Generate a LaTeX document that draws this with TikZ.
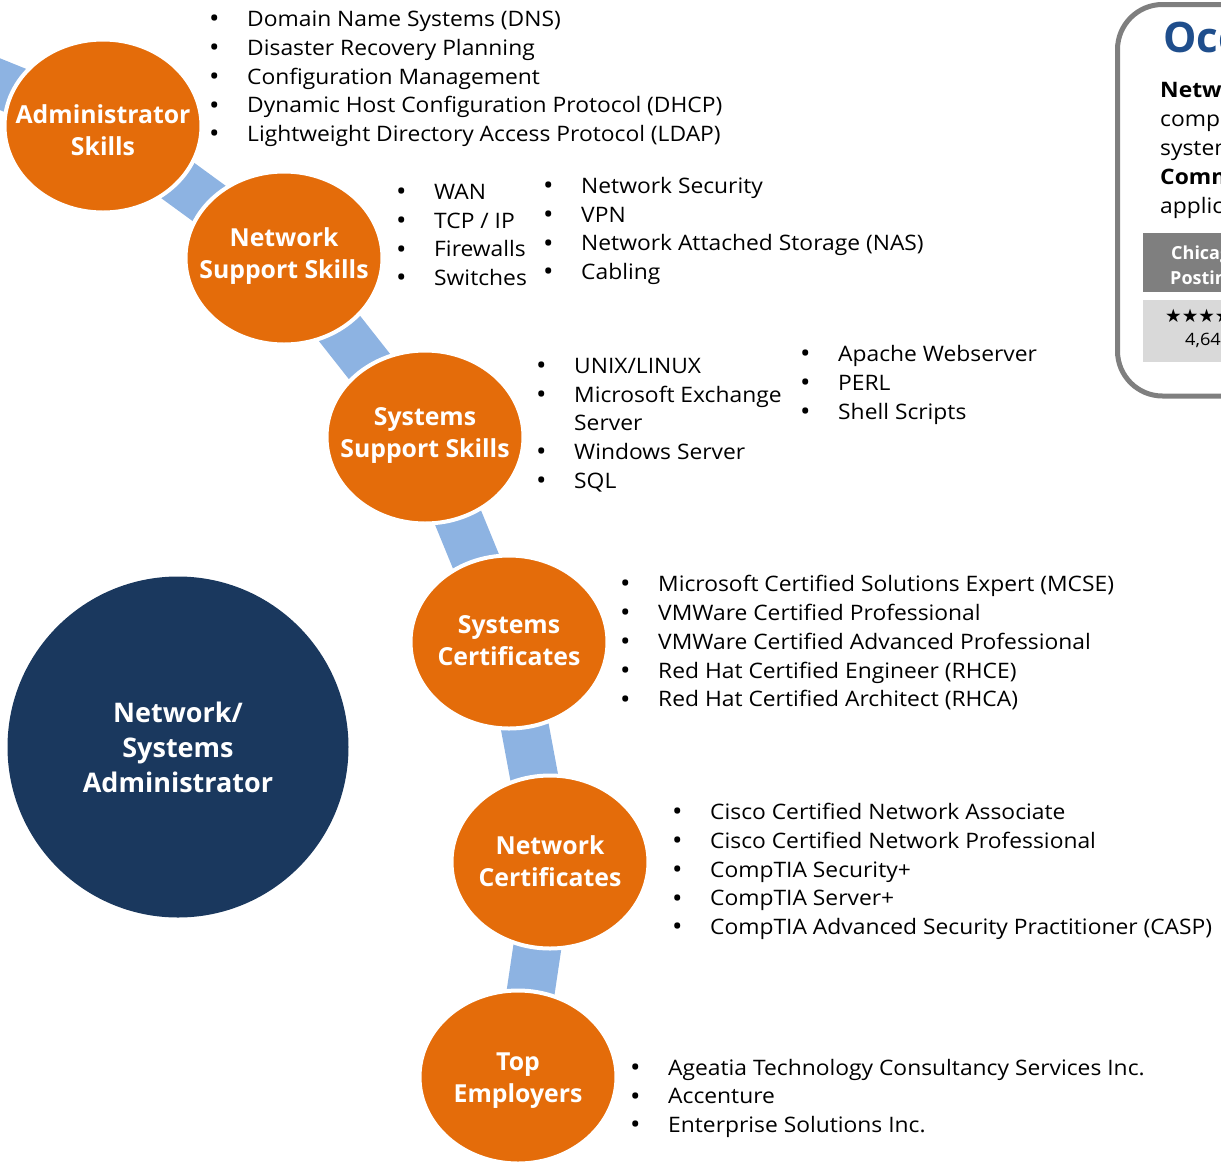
\documentclass[tikz,border=0pt]{standalone}
\usepackage{fontspec}
\setmainfont{Open Sans}
\newfontfamily\listfont{Open Sans}[FakeStretch=1.07]
\newfontfamily\starfont{DejaVu Sans}
\usetikzlibrary{shapes.geometric,backgrounds}
\definecolor{orng}{HTML}{E46C0A}
\definecolor{bandblue}{HTML}{8DB3E2}
\definecolor{navy}{HTML}{1A385E}
\definecolor{boxgray}{HTML}{7F7F7F}
\definecolor{lightgray}{HTML}{D9D9D9}
\definecolor{titleblue}{HTML}{1F4E8C}
\newcommand\bul{\makebox[0pt][r]{\raisebox{-1.2pt}{\fontsize{26}{26}\selectfont\textbullet}\hspace{27.5pt}}}
\newcommand\blist[4]{%
  \foreach \t [count=\i] in {#4} {\node[item] (#1\i) at (#2, {#3+28.8*(\i-1)}) {\bul\t};}}
\begin{document}
\begin{tikzpicture}[x=1pt,y=-1pt,
  band/.style={draw=bandblue, line width=48pt},
  skill/.style={ellipse, fill=orng, draw=white, line width=4pt, minimum width=197pt, minimum height=173pt, inner sep=0pt},
  skilltext/.style={text=white, font=\fontsize{24.8}{32}\selectfont\bfseries, align=center, inner sep=0pt},
  item/.style={anchor=base west, inner sep=0pt, font=\listfont\fontsize{21.33}{28.8}\selectfont},
  boxtext/.style={anchor=base west, inner sep=0pt, font=\listfont\fontsize{21.33}{28.8}\selectfont},
]
\useasboundingbox (0,0) rectangle (1221,1168);
\clip (0,0) rectangle (1221,1168);

% skill ellipses
\node[skill] (admin) at (103,126) {};
\node[skill] (netsup) at (284,258) {};
\node[skill] (syssup) at (425,437) {};
\node[skill] (syscert) at (509,642) {};
\node[skill] (netcert) at (550,862) {};
\node[skill] (topemp) at (518,1077) {};
\coordinate (offtop) at (-200,3);

\begin{scope}[on background layer]
\draw[band] (admin.center) -- (offtop);
\draw[band] (admin.center) -- (netsup.center);
\draw[band] (netsup.center) -- (syssup.center);
\draw[band] (syssup.center) -- (syscert.center);
\draw[band] (syscert.center) -- (netcert.center);
\draw[band] (netcert.center) -- (topemp.center);
\end{scope}

\node[skilltext, yshift=-4pt] (adminT) at (admin) {Administrator\\Skills};
\node[skilltext, yshift=2pt] (netsupT) at (netsup) {Network\\Support Skills};
\node[skilltext, yshift=2pt] (syssupT) at (syssup) {Systems\\Support Skills};
\node[skilltext, yshift=1pt] (syscertT) at (syscert) {Systems\\Certificates};
\node[skilltext, yshift=1pt] (netcertT) at (netcert) {Network\\Certificates};
\node[skilltext, yshift=-4pt] (topempT) at (topemp) {Top\\Employers};

% main circle
\node[circle, fill=navy, minimum size=341pt, inner sep=0pt] (main) at (178,747) {};
\node[text=white, font=\fontsize{27}{35}\selectfont\bfseries, align=center, inner sep=0pt] (mainT) at (main) {Network/\\Systems\\Administrator};

% lists
\blist{a}{247}{26.5}{Domain Name Systems (DNS), Disaster Recovery Planning, Configuration Management, Dynamic Host Configuration Protocol (DHCP), Lightweight Directory Access Protocol (LDAP)}
\blist{n}{434}{199.3}{WAN, TCP / IP, Firewalls, Switches}
\blist{m}{581}{193.3}{Network Security, VPN, Network Attached Storage (NAS), Cabling}
\node[item] (s1) at (574,373.3) {\bul UNIX/LINUX};
\node[item] (s2) at (574,402.1) {\bul Microsoft Exchange};
\node[item] (s2b) at (574,430.9) {Server};
\node[item] (s3) at (574,459.7) {\bul Windows Server};
\node[item] (s4) at (574,488.5) {\bul SQL};
\blist{p}{838}{361.7}{Apache Webserver, PERL, Shell Scripts}
\blist{c}{658}{591.7}{Microsoft Certified Solutions Expert (MCSE), VMWare Certified Professional, VMWare Certified Advanced Professional, Red Hat Certified Engineer (RHCE), Red Hat Certified Architect (RHCA)}
\blist{k}{710}{819.5}{Cisco Certified Network Associate, Cisco Certified Network Professional, CompTIA Security+, CompTIA Server+, CompTIA Advanced Security Practitioner (CASP)}
\blist{e}{668}{1075}{Ageatia Technology Consultancy Services Inc., Accenture, Enterprise Solutions Inc.}

% occupation box (cut off at right edge, as in the reference)
\draw[draw=boxgray, line width=5pt, rounded corners=45pt] (1117.5,4.5) rectangle (1420,396);
\node[anchor=base west, inner sep=0pt, text=titleblue, font=\fontsize{42}{48}\selectfont\bfseries] (otitle) at (1163,52) {Occupation};
\node[boxtext, font=\listfont\fontsize{21.33}{28.8}\selectfont\bfseries] (o1) at (1160,97) {Network};
\node[boxtext] (o2) at (1160,126) {computer};
\node[boxtext] (o3) at (1160,155) {systems};
\node[boxtext, font=\listfont\fontsize{21.33}{28.8}\selectfont\bfseries] (o4) at (1160,184) {Common};
\node[boxtext] (o5) at (1160,213) {applications};
\fill[boxgray] (1143,233) rectangle (1420,292);
\node[anchor=base west, inner sep=0pt, text=white, font=\fontsize{18}{24}\selectfont\bfseries] (ch1) at (1171,259) {Chicago};
\node[anchor=base west, inner sep=0pt, text=white, font=\fontsize{18}{24}\selectfont\bfseries] (ch2) at (1170,284) {Postings};
\fill[lightgray] (1143,300) rectangle (1420,362);
\node[anchor=base west, inner sep=0pt, font=\starfont\fontsize{18.5}{20}\selectfont] (stars) at (1165,322) {★★★★★};
\node[anchor=base west, inner sep=0pt, font=\listfont\fontsize{17}{20}\selectfont] (num) at (1185,345) {4,644};
\end{tikzpicture}
\end{document}
